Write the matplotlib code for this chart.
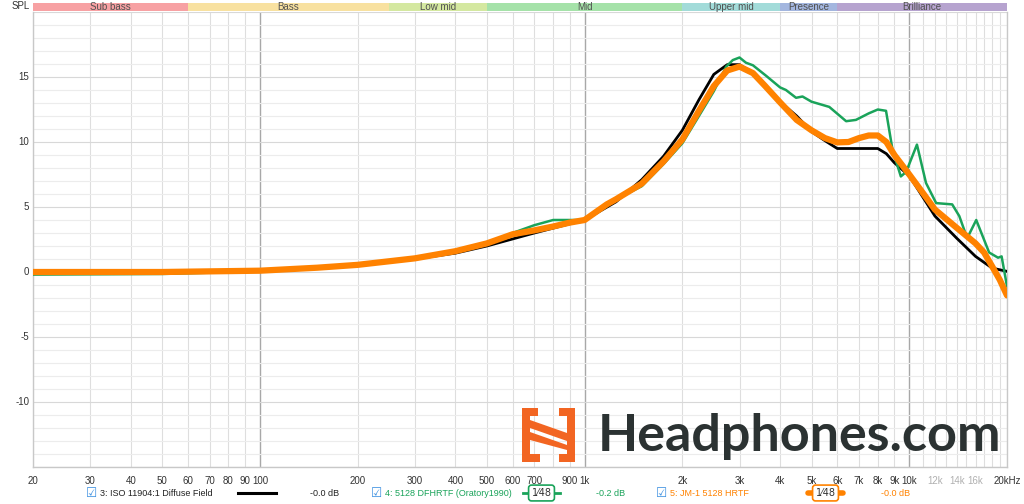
import matplotlib
matplotlib.use('Agg')
import matplotlib.pyplot as plt
from matplotlib.patches import Polygon
from matplotlib.lines import Line2D
import matplotlib.transforms as mtransforms

plt.rcParams['font.family'] = ['Liberation Sans', 'DejaVu Sans']

# ISO 11904:1 diffuse field
iso_freq = [20, 50, 100, 150, 200, 300, 400, 500, 700, 1000, 1250, 1500, 1750, 2000, 2250,
            2500, 2750, 3000, 3300, 3600, 4000, 4500, 5000, 5500, 6000, 7000, 8000, 8500,
            9000, 10000, 12000, 14000, 16000, 18000, 20000]
iso_spl = [0.0, 0.0, 0.12, 0.35, 0.55, 1.0, 1.45, 2.0, 3.0, 4.0, 5.4, 7.1, 8.9, 10.9, 13.25,
           15.2, 15.95, 15.95, 15.3, 14.4, 13.1, 12.0, 10.8, 10.1, 9.5, 9.5, 9.5, 9.1,
           8.4, 7.4, 4.3, 2.6, 1.2, 0.3, 0.05]

# 5128 DFHRTF (Oratory1990)
dfh_freq = [20, 50, 100, 150, 200, 300, 400, 500, 600, 700, 800, 900, 1000, 1100, 1200, 1300,
            1500, 1750, 2000, 2250, 2500, 2730, 2860, 3000, 3140, 3300, 3620, 4000, 4170,
            4480, 4690, 5000, 5670, 6390, 6850, 7500, 8000, 8480, 8880, 9420, 9780, 10560,
            11260, 12100, 13560, 14260, 15080, 16080, 17620, 18770, 19250, 20000]
dfh_spl = [-0.2, -0.15, 0.05, 0.3, 0.55, 1.0, 1.5, 2.2, 3.0, 3.6, 4.0, 4.0, 4.0, 4.6, 5.3, 5.8,
           6.6, 8.3, 9.9, 12.0, 13.9, 15.8, 16.3, 16.5, 16.1, 15.9, 15.1, 14.2, 14.0,
           13.4, 13.5, 13.1, 12.7, 11.6, 11.7, 12.2, 12.5, 12.4, 9.4, 7.35, 7.7, 9.8,
           6.85, 5.3, 5.2, 4.3, 2.6, 4.0, 1.5, 1.1, 1.2, -1.1]

# JM-1 5128 HRTF
jm1_freq = [20, 50, 100, 150, 200, 300, 400, 500, 600, 700, 800, 900, 1000, 1170, 1250, 1500,
            1750, 2000, 2250, 2500, 2750, 3000, 3300, 3600, 4000, 4500, 5000, 5500, 6000,
            6500, 7000, 7500, 8000, 8500, 9000, 10000, 11000, 12000, 14000, 16000, 17000,
            18000, 19000, 20000]
jm1_spl = [0.0, 0.0, 0.1, 0.33, 0.55, 1.05, 1.6, 2.2, 2.9, 3.2, 3.5, 3.8, 4.0, 5.2, 5.6, 6.8,
           8.5, 10.2, 12.4, 14.3, 15.5, 15.8, 15.3, 14.3, 13.05, 11.7, 10.9, 10.3, 9.97,
           10.0, 10.3, 10.5, 10.5, 10.0, 9.0, 7.5, 6.1, 4.8, 3.4, 2.2, 1.5,
           0.43, -0.6, -1.8]

band_names = ['Sub bass', 'Bass', 'Low mid', 'Mid', 'Upper mid', 'Presence', 'Brilliance']
band_edges = [20, 60, 250, 500, 2000, 4000, 6000, 20000]
band_colors = ['#f7a1a3', '#f8e1a0', '#d4e8a0', '#a5e2a9', '#a2dbd9', '#a3b6df', '#b6a3cf']

grid_freqs = ([f for f in range(20, 100, 10)] + [f for f in range(100, 1000, 100)] +
              [f for f in range(1000, 10000, 1000)] + [f for f in range(10000, 20001, 1000)])
tick_freqs = [20, 30, 40, 50, 60, 70, 80, 90, 100, 200, 300, 400, 500, 600, 700, 900, 1000,
              2000, 3000, 4000, 5000, 6000, 7000, 8000, 9000, 10000, 12000, 14000, 16000, 20000]
tick_labels = ['20', '30', '40', '50', '60', '70', '80', '90', '100', '200', '300', '400', '500',
               '600', '700', '900', '1k', '2k', '3k', '4k', '5k', '6k', '7k', '8k', '9k', '10k',
               '12k', '14k', '16k', '20kHz']
y_ticks = [-10, -5, 0, 5, 10, 15]

W, H = 1024, 504


def fx(x):
    return x / W


def fy(y):
    return 1 - y / H


fig = plt.figure(figsize=(10.24, 5.04), dpi=100)
ax = fig.add_axes([fx(33), fy(467), fx(1007) - fx(33), fy(12) - fy(467)])
ax.set_xscale('log')
ax.set_xlim(20, 20000)
ax.set_ylim(-15, 20)

# grid
for f in grid_freqs:
    major = f in (100, 1000, 10000)
    ax.axvline(f, color='#a8a8a8' if major else '#dedede', lw=1.0 if major else 0.8, zorder=0)
for v in range(-15, 21):
    ax.axhline(v, color='#d8d8d8' if v % 5 == 0 else '#ececec', lw=0.8, zorder=0)

ax.set_xticks([])
ax.set_yticks([])
ax.minorticks_off()
for s in ax.spines.values():
    s.set_color('#c8c8c8')
    s.set_linewidth(1.0)
ax.spines['top'].set_visible(False)

ax.plot(iso_freq, iso_spl, color='black', lw=2.0, zorder=3)
ax.plot(dfh_freq, dfh_spl, color='#1aa35a', lw=1.8, zorder=4)
ax.plot(jm1_freq, jm1_spl, color='#ff8200', lw=4.5, zorder=5, solid_capstyle='round')

# tick labels
trans = mtransforms.blended_transform_factory(ax.transData, ax.transAxes)
for f, lab in zip(tick_freqs, tick_labels):
    col = '#b0b0b0' if f in (12000, 14000, 16000) else '#333333'
    ax.text(f, -0.02, lab, transform=trans, ha='center', va='top', fontsize=7, color=col,
            clip_on=False)
for v in y_ticks:
    ax.text(-0.004, v, str(v), transform=ax.get_yaxis_transform(), ha='right', va='center',
            fontsize=7, color='#333333')

# band strip
bax = fig.add_axes([fx(33), fy(11), fx(1007) - fx(33), fy(3) - fy(11)])
bax.set_xscale('log')
bax.set_xlim(20, 20000)
bax.set_ylim(0, 1)
bax.axis('off')
for name, lo, hi, col in zip(band_names, band_edges[:-1], band_edges[1:], band_colors):
    bax.axvspan(lo, hi, color=col, lw=0)
    bax.text((lo * hi) ** 0.5, 0.5, name, ha='center', va='center', fontsize=7, color='#505050')
fig.text(fx(30), fy(6), 'SPL', ha='right', va='center', fontsize=7, color='#333333')

# legend row
ly = fy(493)
fs = 6.5
fig.text(fx(86), ly, '\u2611', ha='left', va='center', fontsize=9, color='#3b8fe0',
         family=['DejaVu Sans'])
fig.text(fx(100), ly, '3: ISO 11904:1 Diffuse Field', ha='left', va='center', fontsize=fs,
         color='#222222')
fig.add_artist(Line2D([fx(238), fx(276)], [ly, ly], color='black', lw=2.2))
fig.text(fx(310), ly, '-0.0 dB', ha='left', va='center', fontsize=fs, color='#222222')

fig.text(fx(371), ly, '\u2611', ha='left', va='center', fontsize=9, color='#3b8fe0',
         family=['DejaVu Sans'])
fig.text(fx(385), ly, '4: 5128 DFHRTF (Oratory1990)', ha='left', va='center', fontsize=fs,
         color='#1aa35a')
fig.add_artist(Line2D([fx(523), fx(560)], [ly, ly], color='#1aa35a', lw=2.0))
fig.text(fx(541.5), ly, '1\u204448', ha='center', va='center', fontsize=7, color='#333333',
         family=['DejaVu Sans'],
         bbox=dict(boxstyle='round,pad=0.3', fc='white', ec='#1aa35a', lw=1.2))
fig.text(fx(596), ly, '-0.2 dB', ha='left', va='center', fontsize=fs, color='#1aa35a')

fig.text(fx(656), ly, '\u2611', ha='left', va='center', fontsize=9, color='#3b8fe0',
         family=['DejaVu Sans'])
fig.text(fx(670), ly, '5: JM-1 5128 HRTF', ha='left', va='center', fontsize=fs,
         color='#ff8200')
fig.add_artist(Line2D([fx(808), fx(843)], [ly, ly], color='#ff8200', lw=4.0,
                      solid_capstyle='round'))
fig.text(fx(825.5), ly, '1\u204448', ha='center', va='center', fontsize=7, color='#333333',
         family=['DejaVu Sans'],
         bbox=dict(boxstyle='round,pad=0.3', fc='white', ec='#ff8200', lw=1.2))
fig.text(fx(881), ly, '-0.0 dB', ha='left', va='center', fontsize=fs, color='#ff8200')

# logo
logo = '#f26522'
shapes = [
    [(522, 408), (538, 408), (538, 416), (530, 416), (530, 420), (522, 420)],
    [(559, 408), (575, 408), (575, 420), (567, 420), (567, 416), (559, 416)],
    [(522, 450), (530, 450), (530, 454), (540, 454), (540, 462), (522, 462)],
    [(567, 450), (575, 450), (575, 462), (559, 462), (559, 454), (567, 454)],
    [(522, 420), (530, 420), (567, 433), (567, 441), (530, 428), (522, 428)],
    [(522, 432), (530, 432), (567, 445), (575, 445), (575, 450), (567, 450), (530, 440),
     (522, 440)],
    [(522, 424), (530, 424), (530, 452), (522, 452)],
    [(567, 418), (575, 418), (575, 448), (567, 448)],
]
for pts in shapes:
    fig.add_artist(Polygon([(fx(x), fy(y)) for x, y in pts], closed=True, fc=logo, ec='none',
                           transform=fig.transFigure))
fig.text(fx(598), fy(437), 'Headphones.com', ha='left', va='center', fontsize=37.5,
         family=['Lato', 'DejaVu Sans'], fontweight='bold', color='#2b3232')

fig.savefig('out.png', dpi=100)
